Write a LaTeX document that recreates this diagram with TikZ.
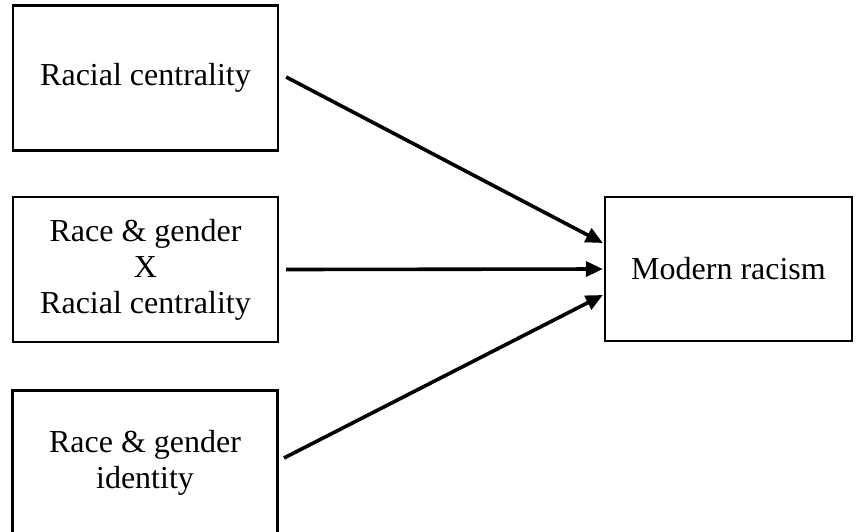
\documentclass[tikz,border=0pt]{standalone}
\usepackage{fontspec}
\setmainfont{Liberation Serif}
\usetikzlibrary{arrows.meta,calc}
\begin{document}
\begin{tikzpicture}[x=1pt,y=-1pt,
  box/.style={draw, line width=2.3pt, minimum width=265pt, minimum height=145pt, inner sep=0pt, align=center,
    font=\fontsize{32}{36}\selectfont},
  conn/.style={line width=3.6pt, -{Triangle[length=17pt,width=15pt]}}]
\useasboundingbox (0,0) rectangle (858,531);
\clip (0,0) rectangle (858,531);
\node[box] (rc) at (145.5,78) {Racial centrality};
\node[box] (rgx) at (145.5,269.5) {Race \& gender\\X\\Racial centrality};
\node[box] (rgi) at (145,463) {Race \& gender\\identity};
\node[box, minimum width=247pt, minimum height=144pt] (mr) at (728.5,269) {Modern racism};
\coordinate (s1) at ($(rc.east)+(7,-1)$);
\coordinate (s2) at ($(rgx.east)+(7,0)$);
\coordinate (s3) at (284,458);
\coordinate (e1) at ($(mr.west)+(-1,-26)$);
\coordinate (e2) at ($(mr.west)+(-1,0)$);
\coordinate (e3) at ($(mr.west)+(-1,26)$);
\draw[conn] (s1) -- (e1);
\draw[conn] (s2) -- (e2);
\draw[conn] (s3) -- (e3);
\end{tikzpicture}
\end{document}
